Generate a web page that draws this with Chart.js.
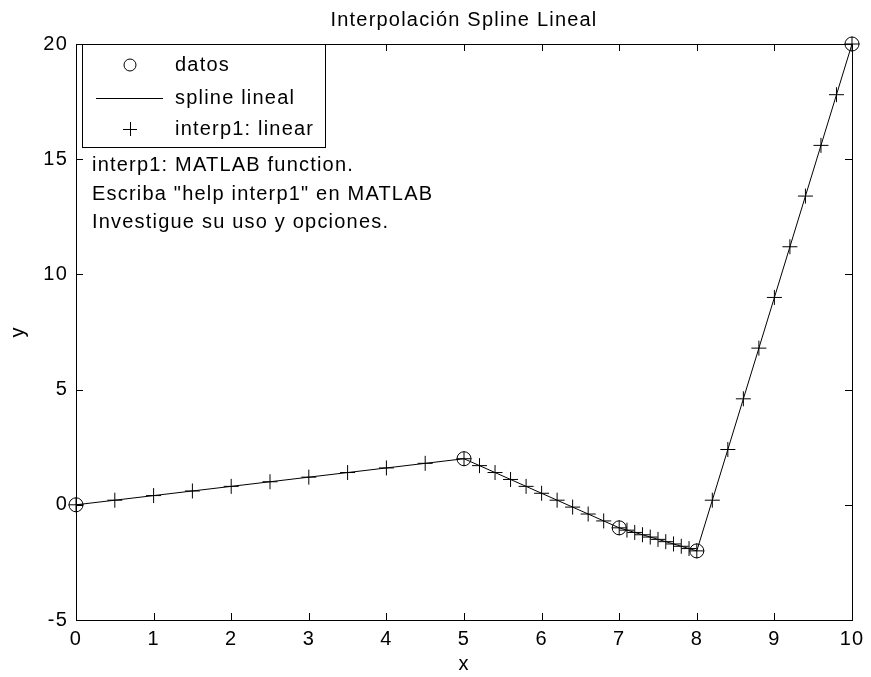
<!DOCTYPE html>
<html>
<head>
<meta charset="utf-8">
<title>Interpolación Spline Lineal</title>
<script src="https://cdn.jsdelivr.net/npm/chart.js@4"></script>
<style>
  body { margin: 0; background: #fff; }
</style>
</head>
<body>
<canvas id="splineChart" width="871" height="677"></canvas>
<script>
// datos
const xDatos = [0, 5, 7, 8, 10];
const yDatos = [0, 2, -1, -2, 20];

// puntos de interp1 (lineal)
const xInterp = [0, 0.5, 1, 1.5, 2, 2.5, 3, 3.5, 4, 4.5, 5,
                 5.2, 5.4, 5.6, 5.8, 6, 6.2, 6.4, 6.6, 6.8, 7,
                 7.1, 7.2, 7.3, 7.4, 7.5, 7.6, 7.7, 7.8, 7.9, 8,
                 8.2, 8.4, 8.6, 8.8, 9, 9.2, 9.4, 9.6, 9.8, 10];
const yInterp = [0, 0.2, 0.4, 0.6, 0.8, 1.0, 1.2, 1.4, 1.6, 1.8, 2.0,
                 1.7, 1.4, 1.1, 0.8, 0.5, 0.2, -0.1, -0.4, -0.7, -1.0,
                 -1.1, -1.2, -1.3, -1.4, -1.5, -1.6, -1.7, -1.8, -1.9, -2.0,
                 0.2, 2.4, 4.6, 6.8, 9.0, 11.2, 13.4, 15.6, 17.8, 20];

const xTickValues = [0, 1, 2, 3, 4, 5, 6, 7, 8, 9, 10];
const yTickValues = [-5, 0, 5, 10, 15, 20];

const seriesNames = ['datos', 'spline lineal', 'interp1: linear'];
const noteLines = [
  'interp1: MATLAB function.',
  'Escriba "help interp1" en MATLAB',
  'Investigue su uso y opciones.'
];

const FONT = 'Liberation Sans, Arial, sans-serif';
const FONT_SIZE = 20;

function toPoints(xs, ys) {
  return xs.map((x, i) => ({ x: x, y: ys[i] }));
}

// MATLAB text is a bit wider than Arial, open it up a little
const wideText = {
  id: 'wideText',
  beforeDraw(chart) {
    chart.ctx.letterSpacing = '1.2px';
  }
};

// box, inward ticks on all four sides
const matlabFrame = {
  id: 'matlabFrame',
  afterDatasetsDraw(chart) {
    const { ctx, chartArea: a, scales } = chart;
    const len = 7;
    ctx.save();
    ctx.strokeStyle = '#000';
    ctx.lineWidth = 1;
    ctx.strokeRect(Math.round(a.left) + 0.5, Math.round(a.top) + 0.5,
                   Math.round(a.right - a.left), Math.round(a.bottom - a.top));
    ctx.beginPath();
    scales.x.ticks.forEach(t => {
      const px = Math.round(scales.x.getPixelForValue(t.value)) + 0.5;
      ctx.moveTo(px, a.bottom); ctx.lineTo(px, a.bottom - len);
      ctx.moveTo(px, a.top); ctx.lineTo(px, a.top + len);
    });
    scales.y.ticks.forEach(t => {
      const py = Math.round(scales.y.getPixelForValue(t.value)) + 0.5;
      ctx.moveTo(a.left, py); ctx.lineTo(a.left + len, py);
      ctx.moveTo(a.right, py); ctx.lineTo(a.right - len, py);
    });
    ctx.stroke();
    ctx.restore();
  }
};

// MATLAB style legend box + text note in the upper left corner
const matlabLegend = {
  id: 'matlabLegend',
  afterDraw(chart) {
    const { ctx, chartArea: a } = chart;
    const ds = chart.data.datasets;
    const bx = a.left + 6, by = a.top, bw = 243, bh = 103;
    const markX = bx + 48, textX = bx + 93;
    const rows = [by + 21, by + 54, by + 85];

    ctx.save();
    ctx.fillStyle = '#fff';
    ctx.fillRect(bx, by, bw, bh);
    ctx.strokeStyle = '#000';
    ctx.lineWidth = 1;
    ctx.strokeRect(bx + 0.5, by + 0.5, bw, bh);

    // circle
    ctx.beginPath();
    ctx.arc(markX, rows[0], 6, 0, Math.PI * 2);
    ctx.stroke();
    // line
    ctx.beginPath();
    ctx.moveTo(bx + 14, rows[1] + 0.5);
    ctx.lineTo(bx + 81, rows[1] + 0.5);
    ctx.stroke();
    // plus
    ctx.beginPath();
    ctx.moveTo(markX - 7, rows[2] + 0.5); ctx.lineTo(markX + 7, rows[2] + 0.5);
    ctx.moveTo(markX + 0.5, rows[2] - 7); ctx.lineTo(markX + 0.5, rows[2] + 7);
    ctx.stroke();

    ctx.fillStyle = '#000';
    ctx.font = FONT_SIZE + 'px ' + FONT;
    ctx.letterSpacing = '1.2px';
    ctx.textBaseline = 'middle';
    ctx.textAlign = 'left';
    ds.forEach((d, i) => ctx.fillText(d.label, textX, rows[i]));

    const noteY = [165, 194, 222];
    noteLines.forEach((line, i) => ctx.fillText(line, a.left + 16, noteY[i]));
    ctx.restore();
  }
};

new Chart(document.getElementById('splineChart'), {
  type: 'scatter',
  data: {
    datasets: [
      {
        label: seriesNames[0],
        data: toPoints(xDatos, yDatos),
        showLine: false,
        pointStyle: 'circle',
        pointRadius: 7,
        pointBorderWidth: 1,
        pointBorderColor: '#000',
        pointBackgroundColor: 'rgba(0,0,0,0)',
        clip: false
      },
      {
        label: seriesNames[1],
        data: toPoints(xDatos, yDatos),
        showLine: true,
        borderColor: '#000',
        borderWidth: 1,
        pointRadius: 0,
        tension: 0,
        clip: false
      },
      {
        label: seriesNames[2],
        data: toPoints(xInterp, yInterp),
        showLine: false,
        pointStyle: 'cross',
        pointRadius: 7.5,
        pointBorderWidth: 1,
        pointBorderColor: '#000',
        clip: false
      }
    ]
  },
  options: {
    responsive: false,
    animation: false,
    events: [],
    layout: { padding: { left: 0, right: 19, top: 0, bottom: 0 } },
    plugins: {
      legend: { display: false },
      tooltip: { enabled: false },
      title: {
        display: true,
        fullSize: false,
        text: 'Interpolación Spline Lineal',
        color: '#000',
        font: { family: FONT, size: FONT_SIZE, weight: 'normal' },
        padding: { top: 8, bottom: 12 }
      }
    },
    scales: {
      x: {
        type: 'linear',
        min: 0,
        max: 10,
        afterBuildTicks: s => { s.ticks = xTickValues.map(v => ({ value: v })); },
        afterFit: s => { s.height = 57; },
        grid: { display: false, drawTicks: false },
        border: { display: false },
        ticks: {
          color: '#000',
          padding: 7,
          maxRotation: 0,
          font: { family: FONT, size: FONT_SIZE }
        },
        title: {
          display: true,
          text: 'x',
          color: '#000',
          font: { family: FONT, size: FONT_SIZE },
          padding: { top: 0, bottom: 1 }
        }
      },
      y: {
        type: 'linear',
        min: -5,
        max: 20,
        afterBuildTicks: s => { s.ticks = yTickValues.map(v => ({ value: v })); },
        afterFit: s => { s.width = 76; },
        grid: { display: false, drawTicks: false },
        border: { display: false },
        ticks: {
          color: '#000',
          padding: 8,
          font: { family: FONT, size: FONT_SIZE }
        },
        title: {
          display: true,
          text: 'y',
          color: '#000',
          font: { family: FONT, size: FONT_SIZE },
          padding: { top: 6, bottom: 0 }
        }
      }
    }
  },
  plugins: [wideText, matlabFrame, matlabLegend]
});
</script>
</body>
</html>
